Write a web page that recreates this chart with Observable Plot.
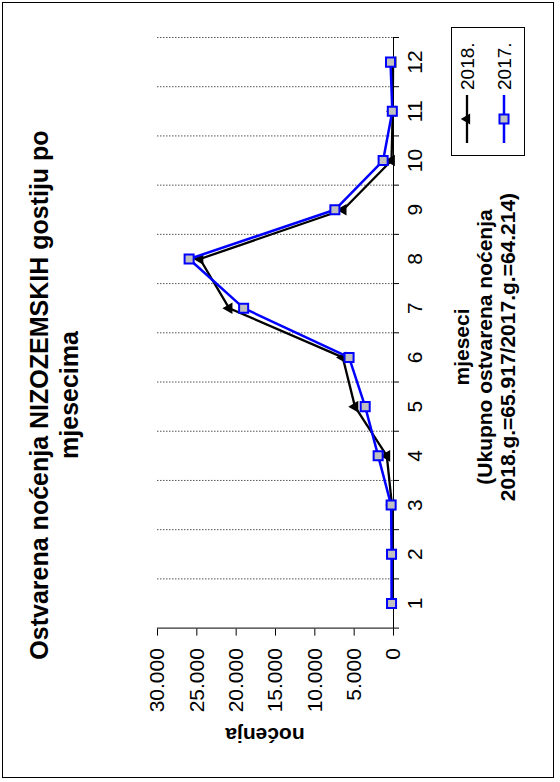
<!DOCTYPE html>
<html><head><meta charset="utf-8">
<script src="https://cdn.jsdelivr.net/npm/d3@7"></script>
<script src="https://cdn.jsdelivr.net/npm/@observablehq/plot@0.6"></script>
<style>
html,body{margin:0;padding:0;background:#fff;overflow:hidden;width:560px;height:782px;}
#land{position:absolute;left:0;top:0;width:782px;height:560px;transform-origin:0 0;transform:translate(0px,782px) rotate(-90deg);font-family:"Liberation Sans",Arial,sans-serif;color:#000;}
.abs{position:absolute;}
#frame{left:4px;top:2px;width:776px;height:552px;border:1px solid #000;box-sizing:border-box;}
#title{left:-4px;top:24px;width:782px;text-align:center;font-size:25px;font-weight:bold;line-height:30px;white-space:nowrap;}
#xtitle{left:44px;top:450px;width:782px;text-align:center;font-size:21px;font-weight:bold;line-height:23px;white-space:nowrap;}
#ytitle{left:-53px;top:253px;width:200px;height:24px;text-align:center;font-size:21px;font-weight:bold;line-height:24px;transform:rotate(-90deg);}
#legend{left:626px;top:451px;width:129px;height:74px;border:1px solid #000;box-sizing:border-box;background:#fff;}
#chart{left:0;top:0;}
</style></head><body>
<div id="land">
  <div id="frame" class="abs"></div>
  <div id="chart" class="abs"></div>
  <div id="title" class="abs"></div>
  <div id="xtitle" class="abs"></div>
  <div id="ytitle" class="abs"></div>
  <div id="legend" class="abs"></div>
</div>
<script>
// ---- data ----
const months = [1, 2, 3, 4, 5, 6, 7, 8, 9, 10, 11, 12];
const nights2018 = [100, 100, 200, 850, 4900, 6450, 20900, 24600, 6400, 250, 100, 50];
const nights2017 = [250, 250, 300, 1950, 3600, 5650, 19050, 25980, 7450, 1320, 150, 380];
const seriesNames = ["2018.", "2017."];
const yTicks = [0, 5000, 10000, 15000, 20000, 25000, 30000];
const monthBounds = [0.5, 1.5, 2.5, 3.5, 4.5, 5.5, 6.5, 7.5, 8.5, 9.5, 10.5, 11.5, 12.5];
const titleLines = ["Ostvarena noćenja NIZOZEMSKIH gostiju po", "mjesecima"];
const xTitleLines = ["mjeseci", "(Ukupno ostvarena noćenja", "2018.g.=65.917/2017.g.=64.214)"];
const yTitle = "noćenja";

// ---- build ----
const fmt = d3.formatLocale({decimal: ",", thousands: ".", grouping: [3], currency: ["", ""]}).format(",d");
const d2018 = months.map((m, i) => ({month: m, value: nights2018[i]}));
const d2017 = months.map((m, i) => ({month: m, value: nights2017[i]}));

const chart = Plot.plot({
  width: 782, height: 560,
  marginLeft: 153.4, marginRight: 38, marginTop: 157, marginBottom: 167,
  x: {domain: [0.5, 12.5], axis: null},
  y: {domain: [0, 30000], axis: null},
  style: {fontFamily: "'Liberation Sans', Arial, sans-serif", background: "transparent", overflow: "visible", color: "#000"},
  marks: [
    Plot.ruleX(monthBounds.slice(1), {stroke: "#555", strokeWidth: 1, strokeDasharray: "1.5,1.5"}),
    Plot.axisX({ticks: monthBounds, tickSize: 6, tickFormat: () => "", stroke: "#000", label: null}),
    Plot.axisX({ticks: months, tickSize: 0, tickPadding: 14, fontSize: 21, tickFormat: d => String(d), label: null}),
    Plot.axisY({ticks: yTicks, tickSize: 7, tickPadding: 13, fontSize: 21, tickFormat: fmt, stroke: "#000", label: null}),
    Plot.ruleY([0], {stroke: "#000", strokeWidth: 1}),
    Plot.ruleX([0.5], {stroke: "#000", strokeWidth: 1}),
    Plot.line(d2018, {x: "month", y: "value", stroke: "#000", strokeWidth: 2.3}),
    Plot.dot(d2018, {x: "month", y: "value", symbol: "triangle", r: 4.3, fill: "#000", stroke: "none"}),
    Plot.line(d2017, {x: "month", y: "value", stroke: "#0000ff", strokeWidth: 2.5}),
    Plot.dot(d2017, {x: "month", y: "value", symbol: "square", r: 5.1, fill: "#c0c0c0", stroke: "#0000ff", strokeWidth: 2})
  ]
});
document.getElementById("chart").appendChild(chart);

document.getElementById("title").innerHTML = titleLines.join("<br>");
document.getElementById("xtitle").innerHTML = xTitleLines.join("<br>");
document.getElementById("ytitle").textContent = yTitle;

// legend
const leg = d3.select("#legend").append("svg")
  .attr("width", 127).attr("height", 72)
  .style("position", "absolute").style("left", "0px").style("top", "0px")
  .style("font-family", "'Liberation Sans', Arial, sans-serif");
const legItems = [
  {name: seriesNames[0], color: "#000", sym: d3.symbolTriangle, r: 4.0, fill: "#000", stroke: "none"},
  {name: seriesNames[1], color: "#0000ff", sym: d3.symbolSquare, r: 5.1, fill: "#c0c0c0", stroke: "#0000ff"}
];
legItems.forEach((it, i) => {
  const cy = i === 0 ? 15 : 52;
  const g = leg.append("g").attr("transform", `translate(0,${cy})`);
  g.append("line").attr("x1", 12).attr("x2", 60).attr("y1", 0).attr("y2", 0)
    .attr("stroke", it.color).attr("stroke-width", i === 0 ? 2.3 : 2.5);
  g.append("path").attr("transform", "translate(36,0)")
    .attr("d", d3.symbol(it.sym, it.r * it.r * Math.PI)())
    .attr("fill", it.fill).attr("stroke", it.stroke).attr("stroke-width", 2);
  g.append("text").attr("x", 65).attr("y", 7).attr("font-size", 19).text(it.name);
});
</script>
</body></html>
